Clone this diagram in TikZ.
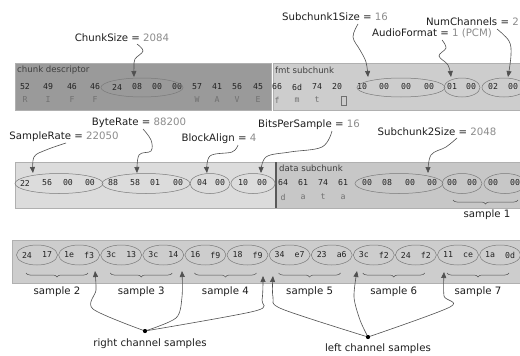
\documentclass[tikz,border=0pt]{standalone}
\usepackage{fontspec}
\setmainfont{DejaVu Sans}
\newfontfamily\hexfont{DejaVu Sans Mono}
\usetikzlibrary{shapes.geometric,arrows.meta,decorations.pathreplacing}
\definecolor{bandDark}{HTML}{9A9A9A}
\definecolor{bandLight}{HTML}{CDCDCD}
\definecolor{bandPale}{HTML}{DCDCDC}
\definecolor{bandEdge}{HTML}{B0B0B0}
\definecolor{ellColor}{HTML}{7A7A7A}
\definecolor{labName}{HTML}{1E1E1E}
\definecolor{valColor}{HTML}{8C8C8C}
\definecolor{hexColor}{HTML}{222222}
\definecolor{ltrColor}{HTML}{707070}
\definecolor{ptrColor}{HTML}{505050}
\begin{document}
\begin{tikzpicture}[x=1pt,y=-1pt,
  lab/.style={font=\fontsize{10.2}{12}\selectfont, inner sep=0pt, text=labName},
  small/.style={font=\fontsize{8.6}{10}\selectfont, inner sep=0pt, anchor=west, text=labName!85},
  hexb/.style={font=\hexfont\fontsize{8.2}{10}\selectfont, inner sep=0pt, text=hexColor},
  ltr/.style={font=\hexfont\fontsize{8.2}{10}\selectfont, inner sep=0pt, text=ltrColor},
  ell/.style={ellipse, draw=ellColor, line width=0.5pt, inner sep=0pt},
  ptr/.style={draw=ptrColor, line width=0.6pt, -{Triangle[length=6pt,width=5pt]}},
  brc/.style={decorate, decoration={brace, mirror, amplitude=4pt}, draw=ptrColor, line width=0.5pt},
  dot/.style={circle, fill=black, inner sep=0pt, minimum size=4pt},
]
\useasboundingbox (0,0) rectangle (520,356);
\clip (0,0) rectangle (520,356);
\fill[white] (0,0) rectangle (520,356);

% ---------- bands ----------
\draw[fill=bandDark, draw=bandEdge, line width=0.8pt] (15,63) rectangle (271,110);
\draw[fill=bandLight, draw=bandEdge, line width=0.8pt] (273,63) rectangle (524,110);
\draw[fill=bandPale, draw=bandEdge, line width=0.8pt] (15,162) rectangle (276,208);
\draw[fill=bandLight!97!black, draw=bandEdge, line width=0.8pt] (276,162) rectangle (524,208);
\draw[draw=black!65, line width=1.3pt] (276,162) -- (276,208);
\draw[fill=bandLight, draw=bandEdge, line width=0.8pt] (12,240) rectangle (524,283);

% ---------- section titles ----------
\node[small] (cd) at (17,70) {chunk descriptor};
\node[small] (fs) at (275,70) {fmt subchunk};
\node[small] (ds) at (279,168) {data subchunk};

% ---------- row 1 bytes ----------
\foreach \x/\t [count=\i] in {25/52,48/49,72/46,95/46,117/24,137/08,157/00,177/00,197/57,217/41,237/56,258/45,
  277/66,297/6d,317/74,337/20,362/10,384/00,406/00,429/00,452/01,471/00,493/02,513/00}
  \node[hexb] (ba\i) at (\x,87) {\t};
\foreach \x/\t [count=\i] in {25/R,48/I,72/F,95/F,197/W,217/A,237/V,258/E,277/f,297/m,317/t}
  \node[ltr] (la\i) at (\x,100) {\t};
\node[draw=ltrColor, line width=0.6pt, inner sep=0pt, minimum width=5pt, minimum height=9pt] (sp) at (344,101) {};

\node[ell, minimum width=82pt, minimum height=19pt] (e1) at (142,87.5) {};
\node[ell, minimum width=88pt, minimum height=19pt] (e2) at (401,87.5) {};
\node[ell, minimum width=36pt, minimum height=19pt] (e3) at (462,87.5) {};
\node[ell, minimum width=44pt, minimum height=19pt] (e4) at (504,87.5) {};

% ---------- row 1 labels ----------
\node[lab] (cs) at (122,38) {ChunkSize = \textcolor{valColor}{2084}};
\node[lab] (s1) at (335,17) {Subchunk1Size = \textcolor{valColor}{16}};
\node[lab] (af) at (432,33) {AudioFormat = \textcolor{valColor}{1 (PCM)}};
\node[lab, anchor=east] (nc) at (519,22) {NumChannels = \textcolor{valColor}{2}};

\coordinate (csA) at (137,44);   \coordinate (csT) at (134,77);
\coordinate (s1A) at (358,24);   \coordinate (s1T) at (368,77);
\coordinate (afA) at (442,40);   \coordinate (afT) at (451,77);
\coordinate (ncA) at (497,29);   \coordinate (ncT) at (508,77);
\draw[ptr] plot[smooth, tension=0.6] coordinates {(csA) (143,51) (135,59) (134,67) (csT)};
\draw[ptr] plot[smooth, tension=0.6] coordinates {(s1A) (353,37) (360,50) (366,62) (s1T)};
\draw[ptr] plot[smooth, tension=0.6] coordinates {(afA) (446,48) (439,56) (448,65) (afT)};
\draw[ptr] plot[smooth, tension=0.6] coordinates {(ncA) (509,41) (511,55) (ncT)};

% ---------- row 2 bytes ----------
\foreach \x/\t [count=\i] in {25/22,47/56,68/00,90/00,113/88,135/58,155/01,178/00,202/04,220/00,243/10,262/00,
  283/64,303/61,323/74,343/61,367/00,387/08,410/00,432/00,452/00,472/00,493/00,515/00}
  \node[hexb] (bb\i) at (\x,183) {\t};
\foreach \x/\t [count=\i] in {283/d,303/a,323/t,343/a}
  \node[ltr] (lb\i) at (\x,197) {\t};

\node[ell, minimum width=88pt, minimum height=20pt] (f1) at (59,183.5) {};
\node[ell, minimum width=88pt, minimum height=20pt] (f2) at (146,183.5) {};
\node[ell, minimum width=40pt, minimum height=20pt] (f3) at (210,183.5) {};
\node[ell, minimum width=44pt, minimum height=20pt] (f4) at (253,183.5) {};
\node[ell, minimum width=88pt, minimum height=20pt] (f5) at (399,183.5) {};
\node[ell, minimum width=40pt, minimum height=20pt] (f6) at (462,183.5) {};
\node[ell, minimum width=42pt, minimum height=20pt] (f7) at (505,183.5) {};

% ---------- row 2 labels ----------
\node[lab] (sr) at (64,137) {SampleRate = \textcolor{valColor}{22050}};
\node[lab] (br) at (139,123) {ByteRate = \textcolor{valColor}{88200}};
\node[lab] (ba) at (219,139) {BlockAlign = \textcolor{valColor}{4}};
\node[lab] (bp) at (309,125) {BitsPerSample = \textcolor{valColor}{16}};
\node[lab] (s2) at (437,132) {Subchunk2Size = \textcolor{valColor}{2048}};

\coordinate (srA) at (66,143);  \coordinate (srT) at (33,173);
\coordinate (brA) at (143,129); \coordinate (brT) at (137,173);
\coordinate (baA) at (238,145); \coordinate (baT) at (207,173);
\coordinate (bpA) at (332,131); \coordinate (bpT) at (261,173);
\coordinate (s2A) at (457,138); \coordinate (s2T) at (428,173);
\draw[ptr] plot[smooth, tension=0.6] coordinates {(srA) (46,150) (34,157) (srT)};
\draw[ptr] plot[smooth, tension=0.6] coordinates {(brA) (151,140) (151,151) (139,155) (brT)};
\draw[ptr] plot[smooth, tension=0.6] coordinates {(baA) (232,152) (210,156) (baT)};
\draw[ptr] plot[smooth, tension=0.6] coordinates {(bpA) (322,147) (290,152) (266,157) (bpT)};
\draw[ptr] plot[smooth, tension=0.6] coordinates {(s2A) (446,147) (431,155) (s2T)};

\coordinate (b1L) at (453,200); \coordinate (b1R) at (518,200);
\draw[brc] (b1L) -- (b1R);
\node[lab] (sm1) at (487,215) {sample 1};

% ---------- row 3 ----------
\foreach \a/\b [count=\i from 0] in {24/17,1e/f3,3c/13,3c/14,16/f9,18/f9,34/e7,23/a6,3c/f2,24/f2,11/ce,1a/0d} {
  \pgfmathsetmacro{\cx}{37+42.1*\i}
  \node[ell, minimum width=41pt, minimum height=20pt] (g\i) at (\cx,255) {};
  \node[hexb] (ga\i) at (\cx-10,255) {\a};
  \node[hexb] (gb\i) at (\cx+10,255) {\b};
}
\foreach \k in {2,...,7} {
  \pgfmathsetmacro{\bx}{57+84.2*(\k-2)}
  \coordinate (bl\k) at (\bx-31,273);
  \coordinate (br\k) at (\bx+31,273);
  \draw[brc] (bl\k) -- (br\k);
  \node[lab] (sm\k) at (\bx,292) {sample \k};
}

\node[dot] (rc) at (145,331) {};
\node[lab] (rct) at (150,344) {right channel samples};
\node[dot] (lc) at (368,337) {};
\node[lab] (lct) at (378,349) {left channel samples};

\coordinate (r1) at (95,271);  \coordinate (r2) at (182,271); \coordinate (r3) at (263,276);
\coordinate (l1) at (273,276); \coordinate (l2) at (357,271); \coordinate (l3) at (444,272);
\draw[ptr] plot[smooth, tension=0.5] coordinates {(rc) (93,309) (96,290) (r1)};
\draw[ptr] plot[smooth, tension=0.5] coordinates {(rc) (176,318) (182,297) (r2)};
\draw[ptr] plot[smooth, tension=0.5] coordinates {(rc) (255,311) (262,300) (r3)};
\draw[ptr] plot[smooth, tension=0.5] coordinates {(lc) (282,309) (273,297) (l1)};
\draw[ptr] plot[smooth, tension=0.5] coordinates {(lc) (360,320) (354,297) (l2)};
\draw[ptr] plot[smooth, tension=0.5] coordinates {(lc) (450,307) (444,296) (l3)};
\node[dot] at (rc) {};
\node[dot] at (lc) {};
\end{tikzpicture}
\end{document}
